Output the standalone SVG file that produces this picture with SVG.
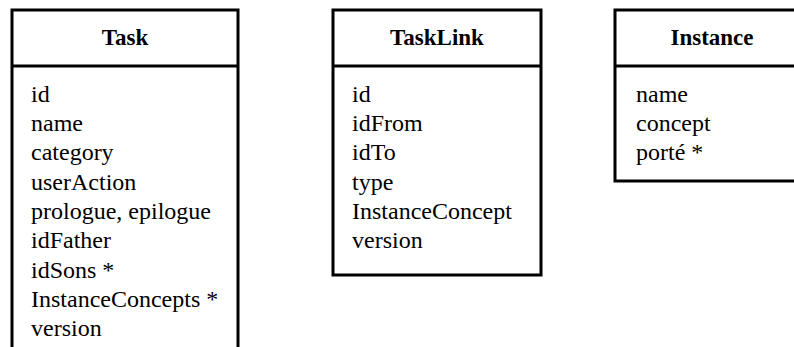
<svg xmlns="http://www.w3.org/2000/svg" width="794" height="347" viewBox="0 0 794 347">
<style>
.box{fill:#fff;stroke:#000;stroke-width:3}
.div{stroke:#000;stroke-width:3}
.h{font-family:"Liberation Serif",serif;font-weight:bold;font-size:23px;text-anchor:middle;fill:#000}
.t{font-family:"Liberation Serif",serif;font-size:24px;fill:#000}
</style>
<rect width="794" height="347" fill="#fff"/>
<g id="Task">
<rect class="box" x="12" y="10" width="226" height="400"/>
<line class="div" x1="12" y1="66" x2="238" y2="66"/>
<text class="h" x="125" y="45">Task</text>
<text class="t" x="31" y="102">id</text>
<text class="t" x="31" y="131">name</text>
<text class="t" x="31" y="160">category</text>
<text class="t" x="31" y="190">userAction</text>
<text class="t" x="31" y="219">prologue, epilogue</text>
<text class="t" x="31" y="248">idFather</text>
<text class="t" x="31" y="278">idSons *</text>
<text class="t" x="31" y="307">InstanceConcepts *</text>
<text class="t" x="31" y="336">version</text>
</g>
<g id="TaskLink">
<rect class="box" x="333" y="10" width="208" height="265"/>
<line class="div" x1="333" y1="66" x2="541" y2="66"/>
<text class="h" x="437" y="45">TaskLink</text>
<text class="t" x="352" y="102">id</text>
<text class="t" x="352" y="131">idFrom</text>
<text class="t" x="352" y="160">idTo</text>
<text class="t" x="352" y="190">type</text>
<text class="t" x="352" y="219">InstanceConcept</text>
<text class="t" x="352" y="248">version</text>
</g>
<g id="Instance">
<rect class="box" x="615" y="10" width="194" height="171"/>
<line class="div" x1="615" y1="66" x2="809" y2="66"/>
<text class="h" x="712" y="45">Instance</text>
<text class="t" x="636" y="102">name</text>
<text class="t" x="636" y="131">concept</text>
<text class="t" x="636" y="160">porté *</text>
</g>
<g id="connectors"></g>
</svg>
